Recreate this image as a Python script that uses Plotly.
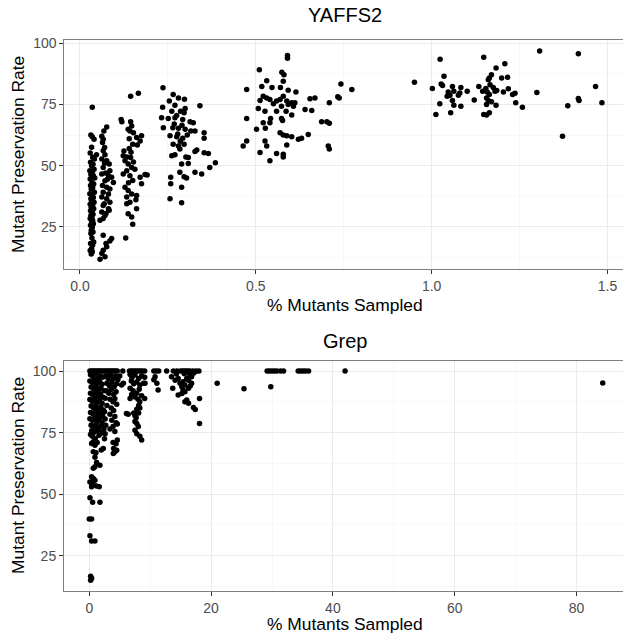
import plotly.graph_objects as go

W, H = 623, 633

# ---------------- YAFFS2 data: (% mutants sampled, mutant preservation rate)
yaffs_a = [(0.035,73.9),(0.031,62.6),(0.035,61.8),(0.040,60.8),(0.033,57.5),(0.029,55.2),(0.036,53.5),(0.041,52.7),
           (0.030,51.4),(0.037,50.6),(0.033,50.0),(0.040,48.6),(0.028,47.9),(0.035,47.3),(0.031,46.4),(0.038,45.9),
           (0.042,45.0),(0.029,44.6),(0.034,43.2),(0.039,42.5),(0.030,41.9),(0.036,41.0),(0.032,40.5),(0.041,39.2),
           (0.028,38.6),(0.035,37.8),(0.038,37.0),(0.031,36.5),(0.033,35.6),(0.040,35.1),(0.029,34.3),(0.036,33.8),
           (0.032,33.0),(0.039,32.4),(0.030,31.6),(0.035,31.1),(0.037,30.2),(0.031,29.7),(0.034,28.9),(0.029,28.4),
           (0.036,27.6),(0.033,27.0),(0.038,26.3),(0.030,25.7),(0.035,24.8),(0.032,23.6),(0.037,22.9),(0.031,22.3),
           (0.034,20.5),(0.039,18.9),(0.030,18.2),(0.036,17.6),(0.033,16.2),(0.029,15.4),(0.035,14.9),(0.032,13.9)]
yaffs_b = [(0.076,65.8),(0.068,64.2),(0.062,62.0),(0.066,60.8),(0.064,59.5),(0.070,57.4),(0.066,56.1),(0.047,54.5),
           (0.071,54.5),(0.062,52.7),(0.076,52.0),(0.083,50.7),(0.066,49.3),(0.085,48.0),(0.062,46.6),(0.081,45.9),
           (0.090,45.3),(0.071,43.9),(0.095,43.2),(0.064,41.9),(0.076,41.2),(0.085,40.5),(0.066,39.2),(0.081,38.5),
           (0.062,37.2),(0.076,36.5),(0.085,35.1),(0.066,33.8),(0.081,32.4),(0.083,31.8),(0.062,31.1),(0.071,29.7),
           (0.066,28.4),(0.057,27.7),(0.074,30.5),(0.069,34.5),(0.073,47.0),(0.078,44.5),(0.070,51.0),(0.066,21.6),
           (0.090,20.3),(0.085,19.3),(0.074,18.2),(0.076,16.9),(0.066,15.5),(0.062,14.2),(0.071,12.8),(0.057,11.8)]
yaffs_c = [(0.144,78.4),(0.166,79.6),(0.117,68.9),(0.119,68.0),(0.144,68.0),(0.147,66.2),(0.137,64.9),(0.142,64.2),
           (0.152,63.5),(0.161,61.5),(0.175,62.2),(0.171,60.1),(0.150,58.8),(0.163,58.5),(0.140,57.0),(0.145,55.5),
           (0.123,54.1),(0.133,53.6),(0.144,53.4),(0.128,52.0),(0.137,50.7),(0.147,49.3),(0.133,48.0),(0.156,48.6),
           (0.123,46.6),(0.142,45.9),(0.185,46.4),(0.191,46.2),(0.171,45.3),(0.150,44.0),(0.138,43.0),(0.175,42.6),
           (0.128,41.2),(0.137,39.9),(0.147,38.5),(0.133,37.2),(0.161,37.8),(0.159,36.1),(0.142,35.1),(0.133,34.5),
           (0.161,32.4),(0.137,30.4),(0.147,29.1),(0.150,26.1),(0.130,20.5),(0.125,56.0),(0.152,51.5),(0.140,61.0)]
yaffs_d = [(0.236,81.8),(0.265,79.1),(0.280,77.7),(0.297,77.2),(0.254,76.4),(0.270,74.7),(0.299,73.4),(0.341,74.5),
           (0.235,73.9),(0.261,72.3),(0.286,72.3),(0.296,71.6),(0.232,69.6),(0.251,69.3),(0.270,69.6),(0.292,68.9),
           (0.313,68.0),(0.322,67.6),(0.237,65.5),(0.264,65.5),(0.280,65.3),(0.299,64.9),(0.315,64.2),(0.327,64.2),
           (0.353,63.5),(0.256,62.2),(0.275,61.8),(0.292,61.2),(0.353,61.2),(0.265,58.8),(0.280,58.1),(0.296,58.8),
           (0.284,56.8),(0.270,54.5),(0.261,54.1),(0.327,55.8),(0.332,56.4),(0.353,55.3),(0.365,55.0),(0.301,53.6),
           (0.308,53.4),(0.289,50.7),(0.308,50.9),(0.385,51.2),(0.369,49.3),(0.327,47.3),(0.346,46.6),(0.284,47.3),
           (0.296,45.5),(0.303,45.0),(0.258,45.3),(0.258,42.6),(0.289,41.2),(0.256,36.5),(0.289,34.9),(0.275,70.5),
           (0.290,66.5),(0.305,62.5),(0.285,60.0),(0.278,63.0),(0.268,67.0)]
yaffs_e = [(0.590,95.0),(0.590,93.9),(0.510,89.2),(0.574,88.2),(0.580,87.2),(0.531,84.7),(0.578,84.5),(0.474,81.1),
           (0.517,82.4),(0.546,82.0),(0.570,82.0),(0.592,80.8),(0.614,80.1),(0.521,78.4),(0.531,77.7),(0.540,77.0),
           (0.559,76.4),(0.569,77.0),(0.578,78.4),(0.588,76.4),(0.602,75.7),(0.611,75.7),(0.512,76.6),(0.550,75.3),
           (0.573,74.3),(0.592,75.0),(0.607,74.3),(0.507,73.4),(0.526,72.3),(0.559,72.3),(0.586,72.3),(0.602,70.7),
           (0.640,73.0),(0.654,77.4),(0.668,77.7),(0.659,72.6),(0.709,75.7),(0.737,77.7),(0.474,69.3),(0.542,69.3),
           (0.573,69.3),(0.576,68.5),(0.521,67.6),(0.540,67.6),(0.502,64.9),(0.527,65.3),(0.569,63.5),(0.578,62.6),
           (0.588,62.2),(0.602,61.8),(0.621,60.8),(0.630,61.2),(0.649,62.8),(0.687,68.0),(0.702,68.0),(0.709,67.4),
           (0.474,60.1),(0.464,58.1),(0.526,60.1),(0.531,58.1),(0.588,58.5),(0.706,58.1),(0.709,56.8),(0.512,55.4),
           (0.559,55.0),(0.578,54.7),(0.578,53.6),(0.540,52.0),(0.742,83.4),(0.733,78.2),(0.773,81.1)]
yaffs_f = [(0.951,84.1),(1.002,81.5),(1.024,93.5),(1.035,86.5),(1.027,83.4),(1.031,82.8),(1.047,80.1),(1.044,78.4),
           (1.052,78.8),(1.059,82.4),(1.063,80.4),(1.076,78.8),(1.080,79.7),(1.083,82.0),(1.101,80.4),(1.059,76.6),
           (1.063,74.7),(1.083,74.3),(1.023,75.3),(1.012,70.9),(1.054,71.6),(1.121,76.8),(1.134,82.4),(1.148,94.3),
           (1.145,80.4),(1.154,81.5),(1.161,85.1),(1.164,85.8),(1.170,87.2),(1.183,89.9),(1.208,91.6),(1.216,86.1),
           (1.199,85.8),(1.158,80.1),(1.164,79.1),(1.156,77.7),(1.161,76.6),(1.170,76.1),(1.175,82.0),(1.180,80.4),
           (1.185,80.7),(1.156,75.0),(1.183,74.7),(1.204,80.1),(1.218,81.4),(1.230,79.1),(1.237,79.6),(1.239,75.7),
           (1.258,73.9),(1.156,70.7),(1.164,71.6),(1.148,70.9),(1.166,83.1)]
yaffs_g = [(1.307,96.9),(1.299,79.9),(1.372,62.0),(1.387,74.5),(1.417,95.7),(1.417,77.5),(1.419,76.6),(1.466,82.4),
           (1.484,75.7)]

# ---------------- Grep data
grep_top_x = [0.1,0.35,0.6,0.85,1.1,1.35,1.6,1.85,2.1,2.35,2.6,2.85,3.1,3.35,3.6,3.85,4.1,4.35,4.6,5.5,6.6,6.9,
              7.2,7.5,7.8,8.1,8.4,8.7,9.1,10.6,11.0,11.4,12.7,13.8,14.4,15.0,15.3,15.6,15.9,16.2,16.5,17.0,17.5,
              18.0,29.2,29.6,30.0,30.4,30.8,31.4,31.9,34.3,34.7,35.1,35.5,36.0,42.0]
grep_block1 = [(0.2,98.5),(0.6,97.8),(1.0,98.9),(1.4,97.2),(1.8,98.0),(2.2,97.5),
               (0.1,96.0),(0.5,95.3),(0.9,96.4),(1.3,95.0),(1.7,95.8),(2.1,94.6),
               (0.3,93.5),(0.7,92.8),(1.1,93.9),(1.5,92.5),(1.9,93.2),(2.4,92.0),
               (0.2,91.0),(0.6,90.3),(1.0,91.4),(1.4,89.9),(1.8,90.7),(2.2,89.5),
               (0.1,88.4),(0.5,87.7),(0.9,88.8),(1.3,87.2),(1.7,88.0),(2.1,86.9),
               (0.3,85.8),(0.7,85.1),(1.1,86.2),(1.5,84.7),(1.9,85.4),(2.3,84.2),
               (0.2,83.2),(0.6,82.6),(1.0,83.6),(1.4,82.1),(1.8,82.9),(2.2,81.6),
               (0.1,80.6),(0.5,80.0),(0.9,81.0),(1.3,79.5),(1.7,80.3),(2.1,79.0),
               (0.3,78.0),(0.7,77.4),(1.1,78.4),(1.5,76.9),(1.9,77.7),(2.4,76.5),
               (0.4,75.8),(0.8,75.2),(1.2,76.0),(1.6,75.5),(2.0,74.8)]
grep_block2 = [(2.7,98.0),(3.1,97.0),(3.5,98.5),(3.9,96.8),(4.3,97.9),(4.7,96.5),(5.0,98.0),(2.9,95.0),(3.3,94.0),
               (3.7,95.5),(4.1,93.6),(4.5,94.8),(5.3,94.3),(5.6,95.0),(2.8,92.0),(3.2,91.0),(3.6,92.5),(4.0,90.5),
               (4.4,91.6),(2.6,89.0),(3.4,88.5),(3.9,87.5),(4.2,88.8),(2.9,86.0),(3.6,85.0),(4.5,86.5),(4.0,84.0),
               (3.4,82.5),(4.2,81.5),(3.7,80.0),(4.4,79.0),(3.9,77.5),(4.6,78.5),(3.4,76.5),(4.2,75.5),(4.6,72.0),
               (3.9,71.0),(4.4,70.5),(4.0,68.6),(4.5,67.8),(3.95,66.5),(4.2,67.2),(2.6,80.5),(2.7,78.0),(2.5,83.5),
               (2.6,74.5),(2.5,72.5)]
grep_block3 = [(6.7,98.6),(7.0,97.3),(7.5,98.4),(8.1,97.0),(8.6,98.0),(9.1,97.5),(6.9,96.0),(7.3,94.8),(7.8,95.6),
               (8.3,94.3),(8.9,95.0),(9.15,95.0),(6.7,93.0),(7.2,92.0),(7.8,91.0),(8.2,92.6),(8.6,90.0),(6.95,90.5),
               (7.5,89.5),(8.0,88.5),(8.3,87.5),(6.7,88.9),(9.1,88.9),(8.1,86.0),(7.8,84.5),(8.3,85.0),(8.1,83.0),
               (7.5,82.0),(6.1,82.8),(6.4,82.5),(7.3,83.0),(7.7,81.0),(7.5,79.5),(7.8,78.7),(8.05,77.5),(7.5,76.0),
               (7.8,74.5),(8.6,72.0),(8.3,73.5)]
grep_block4 = [(10.8,97.7),(11.1,95.0),(11.3,92.3),(10.6,96.5),(13.5,97.7),(13.7,93.0),(14.1,96.3),(14.6,97.0),
               (14.9,95.0),(15.2,93.6),(15.4,95.7),(15.7,94.3),(16.0,97.0),(16.3,96.3),(16.5,98.4),(16.8,97.7),
               (17.1,99.1),(17.4,99.7),(15.4,92.3),(15.2,90.9),(14.6,90.3),(15.7,91.6),(16.3,93.0),(16.8,95.0),
               (16.0,88.2),(16.3,86.9),(15.7,87.5),(17.1,85.2),(17.4,84.4),(18.1,88.9),(18.1,78.7),(14.3,98.8),
               (15.6,98.9),(16.6,94.0)]
grep_sparse = [(21.0,95.0),(25.4,92.8),(29.8,93.6),(84.3,95.1)]
grep_low = [(0.38,70.6),(0.66,71.3),(0.93,69.9),(1.97,67.9),(2.3,68.6),(0.66,67.2),(1.1,66.8),(0.93,65.0),(1.2,62.9),
            (1.75,61.8),(0.66,60.5),(0.93,61.1),(0.38,57.1),(0.66,56.4),(0.93,55.7),(0.11,55.0),(0.38,54.4),
            (0.66,53.7),(1.2,53.3),(0.38,53.0),(1.64,53.0),(0.11,48.6),(0.55,46.7),(1.75,46.7),(0.0,39.9),
            (0.38,39.9),(0.11,33.1),(0.38,31.0),(0.93,31.0),(0.22,16.7),(0.38,15.9),(0.22,15.1),(0.5,73.5),
            (1.0,72.6),(1.6,73.9),(0.2,74.2),(1.3,71.0)]

yaffs_pts = yaffs_a + yaffs_b + yaffs_c + yaffs_d + yaffs_e + yaffs_f + yaffs_g
grep_pts = ([(x, 100.0) for x in grep_top_x] + grep_block1 + grep_block2 + grep_block3 +
            grep_block4 + grep_sparse + grep_low)

FONT = "Liberation Sans, Arial, Helvetica, sans-serif"
MARK = dict(color="black", size=5.5)

fig = go.Figure()
fig.add_trace(go.Scatter(x=[p[0] for p in yaffs_pts], y=[p[1] for p in yaffs_pts], mode="markers",
                         marker=MARK, xaxis="x", yaxis="y", showlegend=False, hoverinfo="skip"))
fig.add_trace(go.Scatter(x=[p[0] for p in grep_pts], y=[p[1] for p in grep_pts], mode="markers",
                         marker=MARK, xaxis="x2", yaxis="y2", showlegend=False, hoverinfo="skip"))

def px_x(p):
    return p / W

def px_y(p):
    return 1 - p / H

common = dict(showgrid=True, gridcolor="#EBEBEB", gridwidth=1, zeroline=False, showline=True,
              linecolor="#7F7F7F", linewidth=1, ticks="outside", ticklen=4, tickwidth=1,
              tickcolor="#333333", tickfont=dict(family=FONT, size=14, color="#4D4D4D"),
              automargin=False, fixedrange=True)

minor_style = dict(showgrid=True, gridcolor="#F4F4F4", gridwidth=0.6, ticks="")

fig.update_layout(
    width=W, height=H, template="none",
    margin=dict(l=0, r=0, t=0, b=0),
    paper_bgcolor="white", plot_bgcolor="white",
    xaxis=dict(domain=[px_x(64.3), 1], anchor="y", range=[-0.0446, 1.544],
               tickvals=[0, 0.5, 1.0, 1.5], ticktext=["0.0", "0.5", "1.0", "1.5"],
               minor=dict(tickvals=[0.25, 0.75, 1.25], **minor_style), mirror=True, **common),
    yaxis=dict(domain=[px_y(269.3), px_y(40)], anchor="x", range=[7.7, 101.35],
               tickvals=[25, 50, 75, 100],
               minor=dict(tickvals=[12.5, 37.5, 62.5, 87.5], **minor_style), **common),
    xaxis2=dict(domain=[px_x(64), 1], anchor="y2", range=[-4.15, 87.63],
                tickvals=[0, 20, 40, 60, 80],
                minor=dict(tickvals=[10, 30, 50, 70], **minor_style), mirror=True, **common),
    yaxis2=dict(domain=[px_y(591), px_y(360.7)], anchor="x2", range=[10.7, 104.2],
                tickvals=[25, 50, 75, 100],
                minor=dict(tickvals=[12.5, 37.5, 62.5, 87.5], **minor_style), **common),
)

ann_font = dict(family=FONT, size=17.4, color="black")
annotations = [
    dict(text="YAFFS2", x=px_x(345), y=px_y(15), font=dict(family=FONT, size=20, color="black")),
    dict(text="Grep", x=px_x(345), y=px_y(341), font=dict(family=FONT, size=20, color="black")),
    dict(text="% Mutants Sampled", x=px_x(345), y=px_y(305), font=ann_font),
    dict(text="% Mutants Sampled", x=px_x(345), y=px_y(624), font=ann_font),
    dict(text="Mutant Preservation Rate", x=px_x(18), y=px_y(155), textangle=-90, font=ann_font),
    dict(text="Mutant Preservation Rate", x=px_x(18), y=px_y(476), textangle=-90, font=ann_font),
]
for a in annotations:
    a.update(xref="paper", yref="paper", showarrow=False, xanchor="center", yanchor="middle")
fig.update_layout(annotations=annotations)

fig.write_html("out.html", config={"displayModeBar": False, "staticPlot": True},
               post_script="document.body.style.margin='0px';document.body.style.overflow='hidden';")
